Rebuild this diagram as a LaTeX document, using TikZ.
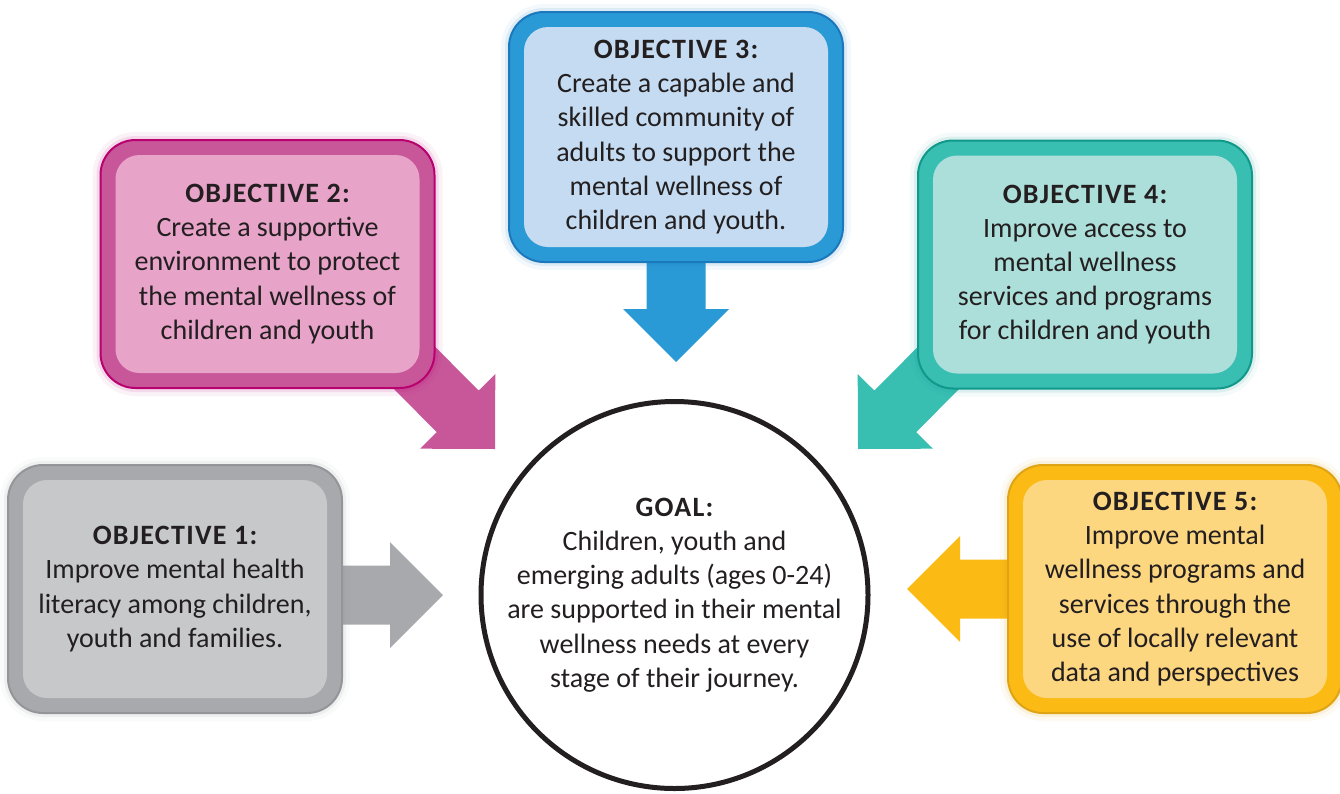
\documentclass[tikz,border=0pt]{standalone}
\usepackage{fontspec}
\setmainfont{Carlito}
\usetikzlibrary{calc,backgrounds}

\definecolor{txt}{HTML}{231F20}
\definecolor{grayrim}{HTML}{A7A9AC}
\definecolor{grayedge}{HTML}{939598}
\definecolor{grayin}{HTML}{C7C8CA}
\definecolor{pinkrim}{HTML}{C8579A}
\definecolor{pinkedge}{HTML}{B8006F}
\definecolor{pinkin}{HTML}{E8A3C9}
\definecolor{bluerim}{HTML}{2A9AD6}
\definecolor{blueedge}{HTML}{1B78BD}
\definecolor{bluein}{HTML}{C4DBF1}
\definecolor{tealrim}{HTML}{39BEB2}
\definecolor{tealedge}{HTML}{10998B}
\definecolor{tealin}{HTML}{ACDEDA}
\definecolor{yelrim}{HTML}{FBBA14}
\definecolor{yeledge}{HTML}{DFA416}
\definecolor{yelin}{HTML}{FDD680}

\newcommand\head[1]{{\bfseries\addfontfeatures{LetterSpace=4.5}#1}}

\newcommand\fatarrow[3]{%
  \coordinate (fs) at ($(#1)!-50pt!(#2)$);
  \coordinate (fb) at ($(#2)!53pt!(#1)$);
  \fill[#3] ($(fs)!29.5pt!90:(#2)$) -- ($(fb)!29.5pt!90:(#2)$) -- ($(fb)!53pt!90:(#2)$)
    -- (#2) -- ($(fb)!53pt!-90:(#2)$) -- ($(fb)!29.5pt!-90:(#2)$) -- ($(fs)!29.5pt!-90:(#2)$) -- cycle;}

\begin{document}
\begin{tikzpicture}[x=1pt,y=-1pt,
  objbox/.style n args={3}{rounded corners=35, minimum width=334, minimum height=248,
    line width=2, fill=#1, draw=#2, inner sep=0, outer sep=0, align=center, text=txt,
    font=\fontsize{28}{34.2}\selectfont,
    preaction={draw=#2, line width=16, opacity=0.05},
    preaction={draw=#2, line width=8, opacity=0.1},
    path picture={\fill[#3, rounded corners=24]
      ($(path picture bounding box.north west)+(15,15)$) rectangle
      ($(path picture bounding box.south east)+(-15,-15)$);}},
  goalnode/.style={circle, draw=txt, line width=5, fill=white, minimum size=387,
    inner sep=0, align=center, text=txt, font=\fontsize{28}{34.2}\selectfont}]
   \useasboundingbox (0,0) rectangle (1340,793);
   \node[goalnode] (goal) at (674.5,595) {\head{GOAL:}\\Children, youth and\\emerging adults (ages 0-24)\\are supported in their mental\\wellness needs at every\\stage of their journey.};
   \node[objbox={grayrim}{grayedge}{grayin}] (obj1) at (175,589) {\head{OBJECTIVE 1:}\\Improve mental health\\literacy among children,\\youth and families.};
   \node[objbox={pinkrim}{pinkedge}{pinkin}] (obj2) at (267.5,264) {\head{OBJECTIVE 2:}\\Create a supportive\\environment to protect\\the mental wellness of\\children and youth};
   \node[objbox={bluerim}{blueedge}{bluein}, minimum height=250] (obj3) at (676,137) {\head{OBJECTIVE 3:}\\Create a capable and\\skilled community of\\adults to support the\\mental wellness of\\children and youth.};
   \node[objbox={tealrim}{tealedge}{tealin}] (obj4) at (1085,264.5) {\head{OBJECTIVE 4:}\\Improve access to\\mental wellness\\services and programs\\for children and youth};
   \node[objbox={yelrim}{yeledge}{yelin}] (obj5) at (1175,589) {\head{OBJECTIVE 5:}\\Improve mental\\wellness programs and\\services through the\\use of locally relevant\\data and perspectives};
   \coordinate (t1) at (443,595);
   \coordinate (t2) at (495,449);
   \coordinate (t3) at (676,362);
   \coordinate (t4) at (858,449);
   \coordinate (t5) at (907,589);
   \begin{scope}[on background layer]
      \fatarrow{obj1 |- t1}{t1}{grayrim}
      \fatarrow{obj2.south east}{t2}{pinkrim}
      \fatarrow{obj3}{t3}{bluerim}
      \fatarrow{obj4.south west}{t4}{tealrim}
      \fatarrow{obj5}{t5}{yelrim}
   \end{scope}
\end{tikzpicture}
\end{document}
